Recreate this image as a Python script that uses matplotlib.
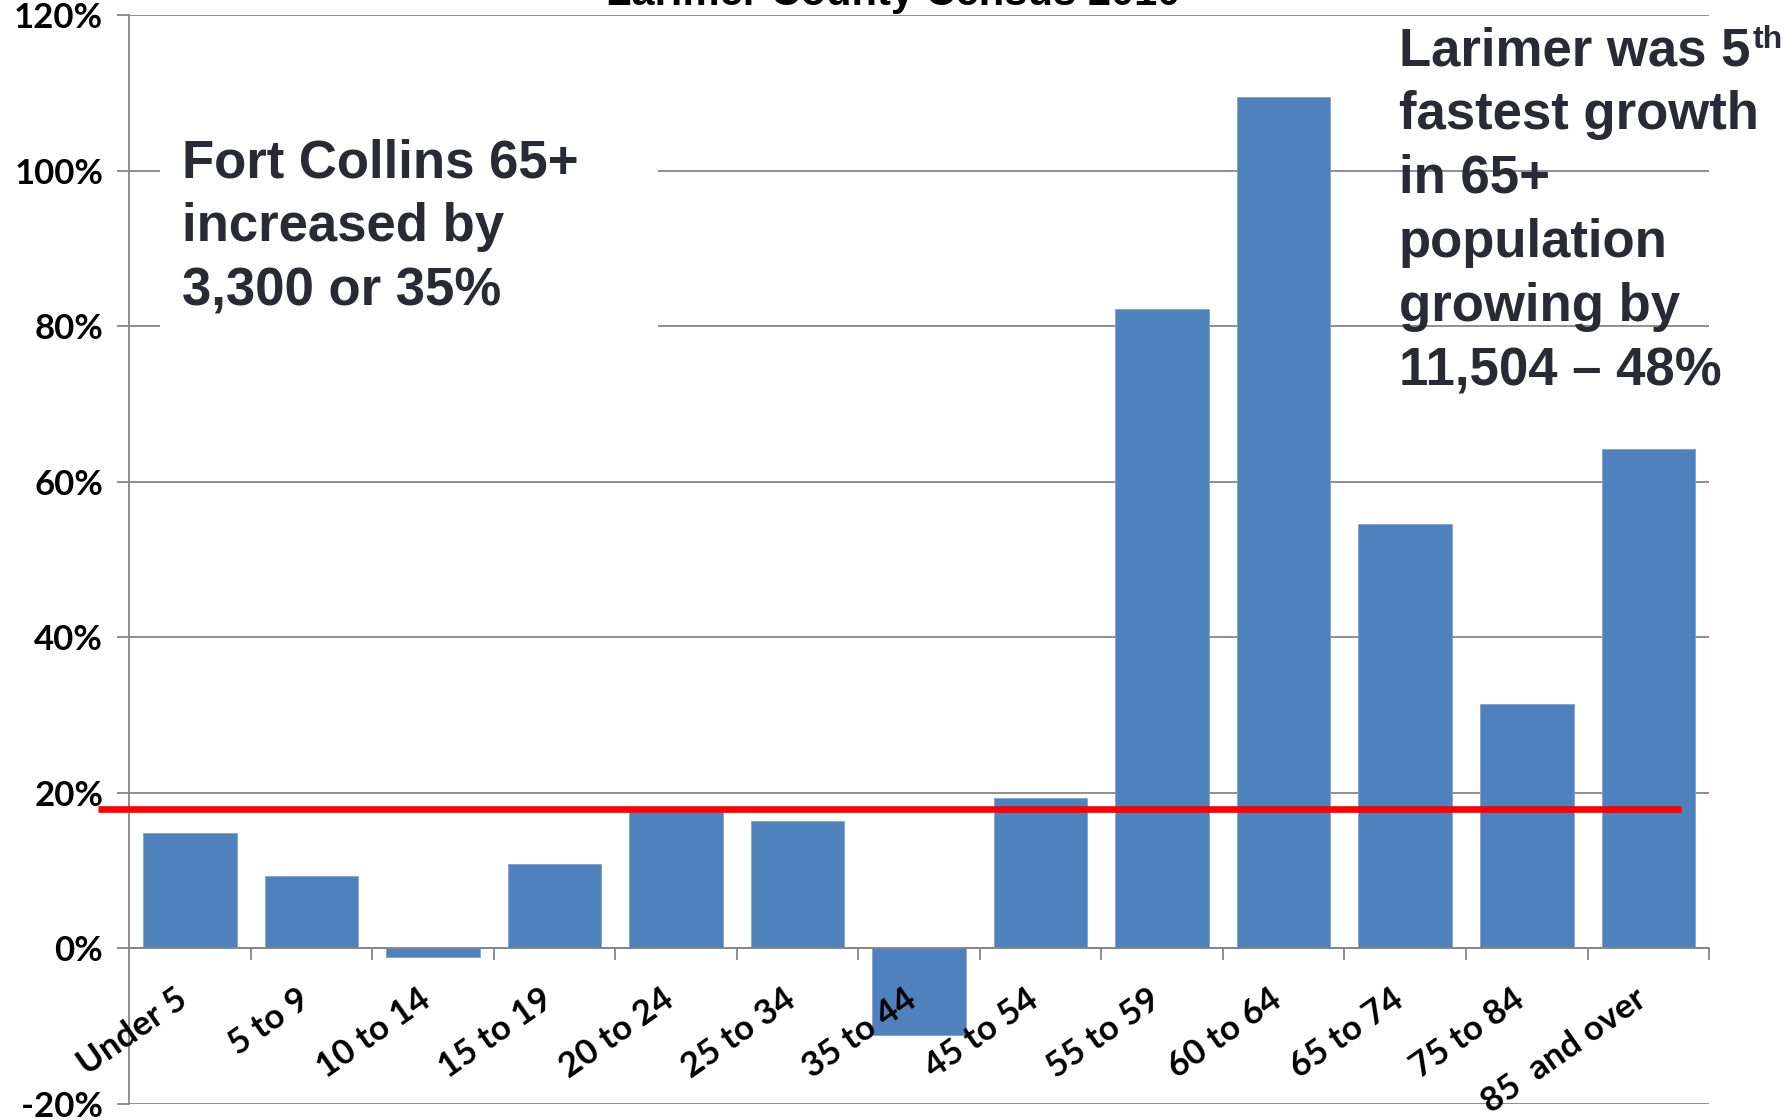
import numpy as np
import matplotlib.pyplot as plt
from matplotlib.patches import Rectangle

# ---------------------------------
# Percent change by age group, Larimer County 2000-2010
# ---------------------------------
age_groups = ["Under 5", "5 to 9", "10 to 14", "15 to 19", "20 to 24", "25 to 34",
              "35 to 44", "45 to 54", "55 to 59", "60 to 64", "65 to 74", "75 to 84",
              "85  and over"]
pct_change = [14.9, 9.3, -1.1, 10.9, 17.6, 16.4, -11.1, 19.3, 82.2, 109.5, 54.6, 31.4, 64.2]
overall_change = 18.0

y_ticks = [-20, 0, 20, 40, 60, 80, 100, 120]
y_labels = [f"{t}%" for t in y_ticks]

fort_collins_note = ["Fort Collins 65+", "increased by", "3,300 or 35%"]
larimer_note = ["Larimer was 5", "fastest growth", "in 65+", "population",
                "growing by", "11,504 \u2013 48%"]

BAR_BLUE = "#4f81bd"
GRID_GRAY = "#868686"
NOTE_INK = "#2a2a34"
W, H = 1790, 1120

fig = plt.figure(figsize=(W / 100, H / 100), dpi=100)
ax = fig.add_axes([0.0721, 0.0143, 0.8827, 0.9719])

x = np.arange(len(age_groups))
ax.bar(x, pct_change, width=0.77, color=BAR_BLUE, edgecolor="#7fa3cf",
       linewidth=0.6, zorder=2)

# overall county growth as a red reference line
ax.plot([-0.755, 12.27], [overall_change, overall_change], color="red", lw=4.8,
        solid_capstyle="butt", clip_on=False, zorder=3)

ax.set_xlim(-0.5, len(age_groups) - 0.5)
ax.set_ylim(-20, 120)
ax.set_yticks(y_ticks)
ax.set_yticklabels(y_labels)
ax.yaxis.grid(True, color=GRID_GRAY, lw=1.3)
ax.set_axisbelow(True)
# category labels sit on top of the negative bars
ax.xaxis.set_zorder(4)

for s in ("top", "right"):
    ax.spines[s].set_visible(False)
ax.spines["bottom"].set_position(("data", 0))
for s in ("bottom", "left"):
    ax.spines[s].set_color(GRID_GRAY)
    ax.spines[s].set_linewidth(1.3)

ax.tick_params(axis="y", length=8.6, width=1.3, color=GRID_GRAY, pad=10, labelsize=25)
ax.set_xticks(x)
ax.set_xticklabels(age_groups, rotation=35, ha="right", va="baseline",
                   rotation_mode="anchor")
ax.tick_params(axis="x", which="major", length=0, pad=40, labelsize=25)
ax.set_xticks(x + 0.5, minor=True)
ax.tick_params(axis="x", which="minor", length=8.6, width=1.3, color=GRID_GRAY)

for lab in ax.get_xticklabels() + ax.get_yticklabels():
    lab.set_fontfamily("Lato")
    lab.set_fontweight("bold")

# title sits mostly above the canvas
fig.text(0.499, 1 - 5 / H, "Larimer County Census 2010", ha="center", va="baseline",
         fontsize=30, fontweight="bold", family="Liberation Sans")

# white panel behind the Fort Collins note
ax.add_patch(Rectangle((0.0196, 0.706), 0.315, 0.203, transform=ax.transAxes,
                       facecolor="white", edgecolor="none", zorder=1.5))


def put_lines(lines, x_px, first_px, step_px):
    texts = []
    for i, line in enumerate(lines):
        t = fig.text(x_px / W, 1 - (first_px + i * step_px) / H, line,
                     ha="left", va="baseline", fontsize=38, fontweight="bold",
                     family="Liberation Sans", color=NOTE_INK, zorder=5)
        texts.append(t)
    return texts


put_lines(fort_collins_note, 182, 178, 63.5)
right_lines = put_lines(larimer_note, 1399, 65, 64)

# "th" superscript after the 5
renderer = fig.canvas.get_renderer()
bb = right_lines[0].get_window_extent(renderer)
fig.text((bb.x1 + 2) / W, 1 - 48 / H, "th", ha="left", va="baseline", fontsize=23,
         fontweight="bold", family="Liberation Sans", color=NOTE_INK)

fig.savefig("out.png", dpi=100)
